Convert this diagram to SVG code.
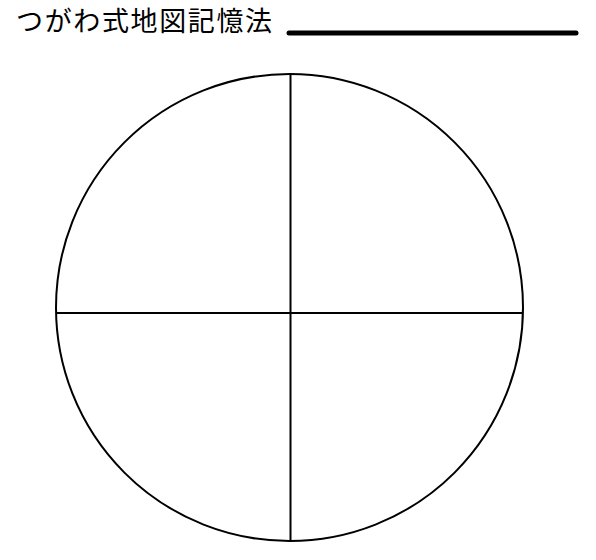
<svg xmlns="http://www.w3.org/2000/svg" width="596" height="560" viewBox="0 0 596 560">
<style>
.title{font-family:"Noto Sans CJK JP","Noto Sans CJK SC",sans-serif;font-size:27px;font-weight:400;fill:#000}
.ln{stroke:#000;stroke-width:2;fill:none}
</style>
<rect width="596" height="560" fill="#fff"/>
<g id="title">
<text class="title" x="16" y="31" textLength="256" lengthAdjust="spacing">つがわ式地図記憶法</text>
<line x1="289" y1="33" x2="576" y2="33" stroke="#000" stroke-width="5" stroke-linecap="round"/>
</g>
<g id="circle">
<circle class="ln" cx="289.5" cy="307.5" r="233.5"/>
</g>
<g id="connectors">
<line class="ln" x1="290.5" y1="74" x2="290.5" y2="541"/>
<line class="ln" x1="56" y1="313" x2="523" y2="313"/>
</g>
</svg>
